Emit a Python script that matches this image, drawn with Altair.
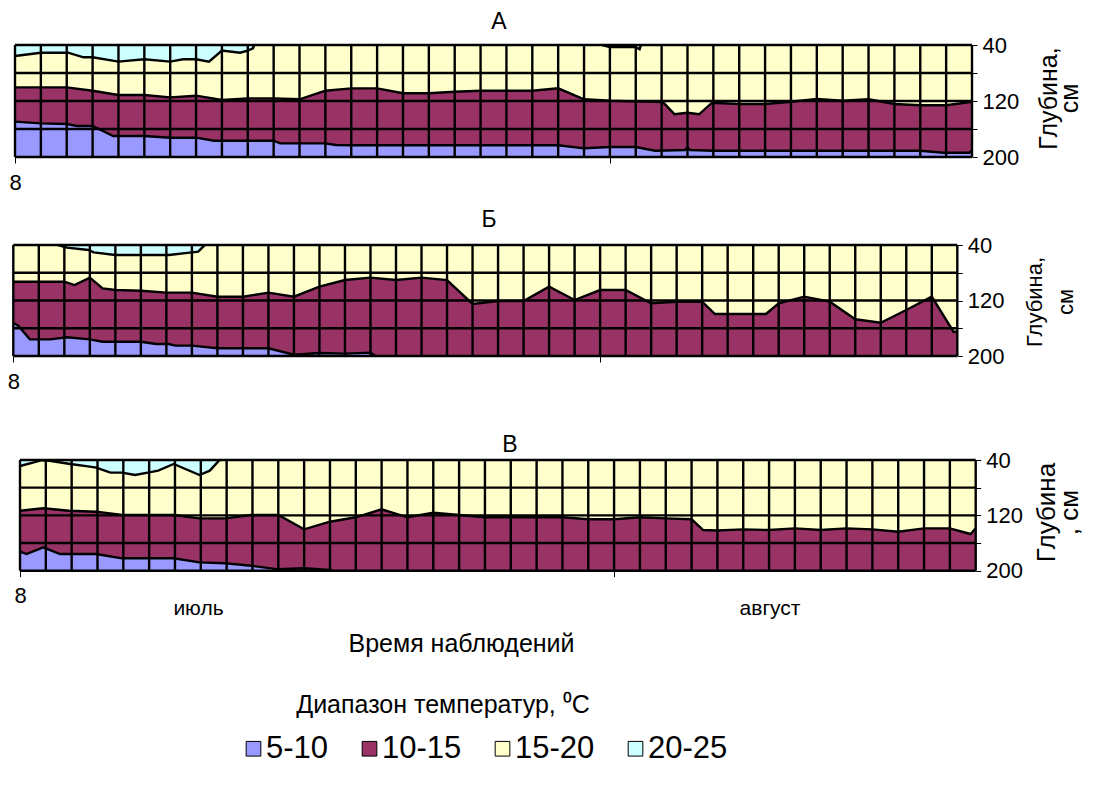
import altair as alt
import pandas as pd

FONT = "Liberation Sans"
BANDS = ["5-10", "10-15", "15-20", "20-25"]
COLORS = ["#9999FF", "#993366", "#FFFFCC", "#CCFFFF"]
DEPTH_TICKS = [40, 80, 120, 160, 200]
OBS = list(range(38))          # observation columns (grid)
X_TICKS = [0, 23]              # category tick marks on the time axis

# ---------------- Panel А ----------------
A_CYAN_X = [0, 1.0, 2.05, 2.65, 3.0, 4.0, 5.0, 6.0, 6.5, 7.0, 7.5, 8.0, 8.7, 9.0, 9.2, 9.25]
A_CYAN_D = [55.7, 51, 51, 57.6, 57.6, 63.8, 60.4, 63.8, 60.4, 60.4, 63.8, 48, 51, 48, 44.7, 40]
A_CYAN2_X = [22.7, 23.0, 24.0, 24.15, 24.2]
A_CYAN2_D = [40, 43, 43, 46, 40]
A_15_X = [0, 1, 2, 3, 4, 5, 6, 7, 8, 9, 10, 11, 12, 13, 14, 15, 16, 17, 18, 19, 20, 21, 22, 23, 24,
          25.05, 25.5, 26.0, 26.45, 26.95, 28, 29, 30, 31, 32, 33, 34, 35, 36, 37]
A_15_D = [100.5, 100.5, 100.5, 105.3, 111.4, 111.4, 114.8, 112.4, 118.6, 116.2, 116.2, 117.6, 105.3,
          101.9, 101.9, 109, 109, 106.7, 105.3, 105.3, 105.3, 101.9, 117.6, 119.6, 120.5,
          121.5, 139, 136.7, 139, 122.4, 124.3, 124.3, 121, 117.2, 119.6, 117.6, 124.3, 126.1, 126.1, 121]
A_10_X = [0, 1, 2, 2.4, 3, 3.8, 4, 5, 6, 7, 7.7, 8, 9, 10, 10.25, 11, 12, 12.4, 13, 14, 15, 16, 17, 18,
          19, 20, 21, 22, 23, 24, 24.75, 25.9, 26.0, 26.1, 27, 28, 29, 30, 31, 32, 33, 34, 35, 35.9, 36.9, 37]
A_10_D = [149.5, 151.9, 152.9, 155.7, 155.7, 170, 170, 170, 172.4, 172.4, 176.7, 176.7, 176.7, 176.7,
          180.5, 180.5, 180.5, 182.9, 183.3, 183.3, 183.3, 183.3, 183.3, 183.3, 183.3, 183.3, 183.3,
          187.6, 185.7, 185.7, 191, 190, 186.7, 190, 191, 191, 191, 191, 191, 191, 191, 191, 191,
          193.9, 193.9, 190]

# ---------------- Panel Б ----------------
B_CYAN_X = [1.75, 2.1, 2.95, 3.15, 4.0, 5.0, 6.1, 7.0, 7.25, 7.48, 7.5]
B_CYAN_D = [40, 43.8, 47.2, 50.6, 54.4, 54.4, 54.4, 50.6, 49.6, 41, 40]
B_15_X = [0, 1, 2, 2.4, 3, 3.5, 4, 5, 6, 7, 8, 9, 10, 11, 12, 13, 14, 15, 16, 17, 18, 19, 20, 21, 22,
          23, 24, 25, 26, 27, 27.5, 29.5, 30, 31, 32, 33, 34, 35, 36, 36.85, 37]
B_15_D = [92.9, 92.9, 92.9, 97.7, 87.1, 102.5, 104.9, 105.9, 108.7, 108.7, 114.5, 114.5, 108.7, 114.5,
          100.1, 90.5, 87.1, 90.5, 87.1, 90.5, 125, 120.7, 120.7, 100.1, 119.3, 104.9, 104.9, 124,
          121.7, 121.7, 139.5, 139.5, 124, 114.5, 121.7, 147, 152, 133.7, 114.5, 165, 165]
B_10_X = [0, 0.2, 0.65, 1.45, 2.1, 3, 3.5, 5, 5.6, 6.1, 6.35, 7, 8, 10, 11, 12, 13, 14, 14.2]
B_10_D = [152, 156.7, 176, 176, 173, 176, 179.4, 179.4, 182.7, 182.7, 185.1, 185.1, 188.9, 188.9,
          198.1, 195.6, 196.6, 195.2, 200]

# ---------------- Panel В ----------------
C_CYAN_X = [0, 0.5, 0.85, 1.15, 1.95, 2.7, 2.95, 3.5, 3.95, 4.45, 4.95, 5.35, 5.95, 6.95, 7.35, 7.7, 7.75]
C_CYAN_D = [48.7, 43.9, 40.3, 41, 45.8, 49.6, 51, 58.3, 58.3, 61.7, 58.3, 55.4, 45.8, 61.7, 55.4, 41, 40]
C_15_X = [0, 0.9, 1.9, 2.95, 3.95, 5.95, 6.95, 7.95, 8.95, 10, 11, 12, 13, 14, 15, 16, 17, 18, 19, 20,
          21, 22, 23, 24, 25, 26, 26.45, 27, 28, 29, 30, 31, 32, 33, 34, 35, 36, 36.8, 37]
C_15_D = [113.3, 109.8, 113.3, 114.7, 119.5, 119.5, 124.3, 124.3, 119.5, 119.5, 140.2, 129.2, 122.8,
          111.3, 122.8, 116.2, 119.5, 122.8, 122.8, 122.8, 122.8, 125.7, 125.7, 122.8, 124.3, 125.7,
          141.2, 142, 140.2, 141.2, 138.8, 141.2, 138.8, 140.2, 143.6, 138.8, 138.8, 147, 138.8]
C_10_X = [0, 0.25, 0.9, 1.55, 2.95, 3.95, 5.95, 6.95, 7.95, 8.95, 10, 11, 12, 12.1]
C_10_D = [172.5, 175.9, 166.2, 175.9, 175.9, 182.1, 182.1, 187.9, 189.3, 192.8, 198, 196.5, 199, 200]

W, H = 1080, 765
LW = 2.4

COLOR = alt.Color(
    "band:N",
    scale=alt.Scale(domain=BANDS, range=COLORS),
    legend=alt.Legend(
        title=None, orient="none", legendX=230, legendY=725, direction="horizontal",
        symbolType="square", symbolSize=215, symbolStrokeColor="black", symbolStrokeWidth=1,
        symbolOpacity=1, labelFontSize=31, labelFont=FONT, labelColor="black",
        columnPadding=25, labelOffset={"expr": "-3"}, padding=0,
    ),
)


def frame(xs, ds, band, seg):
    return pd.DataFrame({"x": xs, "d": ds, "band": band, "seg": seg})


def panel(cyans, b15, b10, xr, yr, ytitle, title_x, title_y, title_lh, title_fs):
    XS = alt.Scale(domain=[0, 37], range=xr, nice=False, zero=False)
    YS = alt.Scale(domain=[40, 200], range=yr, nice=False, zero=False)
    xaxis = alt.Axis(
        orient="bottom", offset=yr[1] - H, values=X_TICKS,
        labelExpr="datum.value == 0 ? '8' : ''", tickSize=6, tickColor="black", tickWidth=1,
        domain=False, grid=False, labelFontSize=22, labelFont=FONT, labelColor="black",
        labelPadding=9, labelFlush=False, title=None,
    )
    yaxis = alt.Axis(
        orient="right", offset=xr[1] - W, values=DEPTH_TICKS,
        labelExpr="datum.value % 80 == 40 ? datum.label : ''", tickSize=5, tickColor="black",
        tickWidth=1, domain=False, grid=False, labelFontSize=22, labelFont=FONT,
        labelColor="black", labelPadding=5, title=ytitle, titleAngle=270, titleFontSize=title_fs,
        titleFont=FONT, titleFontWeight="normal", titleColor="black",
        titleX=title_x, titleY=title_y, titleAlign="center", titleBaseline="alphabetic",
        titleLineHeight=title_lh,
    )

    def X(f):
        return alt.X(f, type="quantitative", scale=XS, axis=xaxis)

    def Y(f):
        return alt.Y(f, type="quantitative", scale=YS, axis=yaxis)

    bg = alt.Chart(pd.DataFrame({"band": ["15-20"]})).mark_rect(opacity=1).encode(
        x=alt.XDatum(0, type="quantitative", scale=XS, axis=xaxis), x2=alt.datum(37),
        y=alt.YDatum(40, type="quantitative", scale=YS, axis=yaxis), y2=alt.datum(200),
        color=COLOR,
    )
    layers = [bg]
    segs = []
    for i, (cx, cd) in enumerate(cyans):
        df = frame(cx, cd, "20-25", f"c{i}")
        segs.append(df)
        layers.append(alt.Chart(df).mark_area(opacity=1).encode(
            x=X("x"), y=Y("d"), y2=alt.datum(40), color=COLOR))
    d15 = frame(b15[0], b15[1], "10-15", "m")
    d10 = frame(b10[0], b10[1], "5-10", "b")
    segs += [d15, d10]
    layers.append(alt.Chart(d15).mark_area(opacity=1).encode(
        x=X("x"), y=Y("d"), y2=alt.datum(200), color=COLOR))
    layers.append(alt.Chart(d10).mark_area(opacity=1).encode(
        x=X("x"), y=Y("d"), y2=alt.datum(200), color=COLOR))
    lines = pd.concat(segs, ignore_index=True)
    layers.append(alt.Chart(lines).mark_line(color="black", strokeWidth=LW).encode(
        x=X("x"), y=Y("d"), detail="seg:N"))
    layers.append(alt.Chart(pd.DataFrame({"gx": OBS})).mark_rule(color="black", strokeWidth=LW).encode(
        x=X("gx"), y=alt.YDatum(40, type="quantitative", scale=YS, axis=yaxis), y2=alt.datum(200)))
    layers.append(alt.Chart(pd.DataFrame({"gd": DEPTH_TICKS})).mark_rule(color="black", strokeWidth=LW).encode(
        y=Y("gd"), x=alt.XDatum(0, type="quantitative", scale=XS, axis=xaxis), x2=alt.datum(37)))
    return alt.layer(*layers)


pA = panel([(A_CYAN_X, A_CYAN_D), (A_CYAN2_X, A_CYAN2_D)], (A_15_X, A_15_D), (A_10_X, A_10_D),
           [7, 964], [37, 149], ["Глубина,", "см"], 84, 90, 21, 25)
pB = panel([(B_CYAN_X, B_CYAN_D)], (B_15_X, B_15_D), (B_10_X, B_10_D),
           [5.3, 949.3], [237, 348], ["Глубина,", "см"], 84, 293.5, 31, 22)
pC = panel([(C_CYAN_X, C_CYAN_D)], (C_15_X, C_15_D), (C_10_X, C_10_D),
           [12, 967.7], [452, 562.7], ["Глубина", ", см"], 79, 504, 23, 26)

one = pd.DataFrame({"k": [0]})


def label(text, px, py, size, baseline="middle"):
    return alt.Chart(one).mark_text(
        text=text, font=FONT, fontSize=size, color="black", align="center", baseline=baseline
    ).encode(x=alt.value(px), y=alt.value(py))


notes = alt.layer(
    label("А", 491, 14, 23),
    label("Б", 481, 212, 23),
    label("В", 502, 437, 23),
    label("июль", 190.5, 607, 21, "alphabetic"),
    label("август", 762, 607, 21, "alphabetic"),
    label("Время наблюдений", 453.5, 644, 25, "alphabetic"),
    label("Диапазон температур, \u2070C", 435, 705, 25, "alphabetic"),
)

chart = alt.layer(pA, pB, pC, notes).resolve_scale(
    x="independent", y="independent"
).properties(
    width=W, height=H, autosize=alt.AutoSizeParams(type="none"), padding=0
).configure_view(stroke=None)

chart.save("out.html", embed_options={"renderer": "svg", "actions": False})
